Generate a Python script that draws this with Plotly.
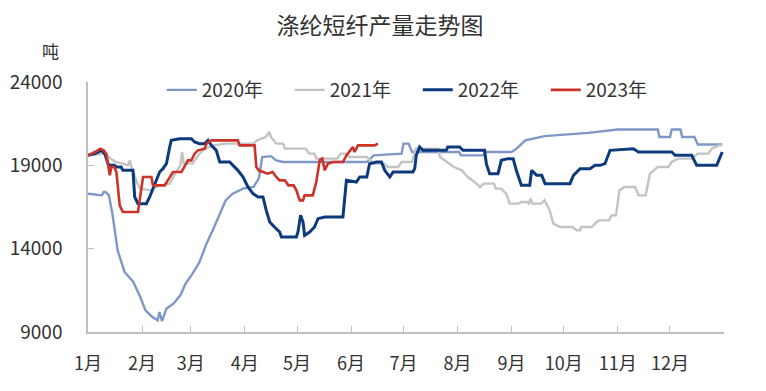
import pandas as pd
import plotly.graph_objects as go

# ---- data (day offset from Jan 1, production in tonnes) ----
days_2020 = [0, 8, 9, 10, 12, 14, 17, 21, 26, 30, 33, 37, 40, 41, 42.5, 45, 49, 53, 56, 60,
             64, 68, 72, 76, 79, 83, 89, 95, 98, 100, 105, 108, 112, 160, 164, 180, 181, 184, 186, 213,
             214, 227, 228, 243, 246, 251, 262, 287, 304, 327, 328, 334, 335, 340, 341, 348, 350, 364]
vals_2020 = [17300, 17200, 17400, 17400, 17200, 16100, 13900, 12600, 12000, 11100, 10300, 9900, 9700, 10200, 9650, 10400, 10700, 11200, 11900, 12500,
             13200, 14300, 15200, 16200, 16900, 17300, 17600, 17700, 18200, 19500, 19550, 19300, 19200, 19200, 19600, 19700, 20300, 20300, 19800, 19800,
             19600, 19600, 19800, 19800, 20000, 20500, 20750, 20950, 21150, 21150, 20700, 20700, 21150, 21150, 20700, 20700, 20250, 20250]

days_2021 = [0, 10, 13, 16, 20, 23, 24, 25, 28, 30, 36, 41, 47, 50, 53, 54, 55, 60, 62, 64,
             67, 72, 79, 95, 97, 102, 104, 105, 108, 112, 113, 125, 127, 130, 131, 143, 145, 148, 150, 160,
             164, 170, 172, 178, 180, 186, 188, 201, 202, 207, 210, 214.5, 218, 223, 225, 227, 233, 234, 237, 240,
             242, 247, 249, 252, 253, 254, 255, 260, 262, 265, 267, 271, 278, 280.5, 282.5, 283, 289, 291, 293, 299,
             300.5, 303, 305, 308, 314, 316, 320, 322.5, 327, 333, 335, 338.5, 346.5, 350, 356, 358, 362, 364]
vals_2021 = [19600, 19700, 19400, 19200, 19100, 19000, 19300, 18900, 18000, 17600, 17500, 17800, 17900, 18500, 19000, 19800, 19100, 19100, 19400, 19700,
             20000, 20200, 20300, 20300, 20500, 20700, 21000, 20700, 20300, 20300, 20000, 20000, 19700, 19700, 19400, 19400, 19700, 19700, 19500, 19500,
             19100, 19100, 18900, 18900, 19200, 19200, 20000, 20000, 19500, 19100, 18900, 18700, 18300, 17900, 17700, 17900, 17900, 17600, 17600, 17300,
             16700, 16700, 16800, 16800, 16700, 17000, 16700, 16700, 16900, 16300, 15500, 15300, 15300, 15100, 15100, 15300, 15300, 15500, 15700, 15700,
             16000, 16000, 17500, 17700, 17700, 17200, 17200, 18500, 18900, 18900, 19200, 19400, 19400, 19700, 19700, 20000, 20200, 20200]

days_2022 = [0, 4, 7.7, 9.6, 11.5, 12.4, 15.3, 16.3, 19, 20, 25.8, 26.8, 28.7, 33.5, 35.4, 38.3, 41.1, 43, 45, 46.9,
             47.8, 52.6, 59.3, 61.2, 64, 67, 68.9, 70.8, 73.6, 75.6, 81.3, 86, 89, 91.8, 94.7, 97.6, 100.4, 102.3, 104.3, 107,
             110, 111, 119.6, 120.5, 122, 123.4, 124.3, 127.2, 130, 132, 135.8, 146.3, 148.3, 154, 156, 160, 161.6, 165.5, 168.4, 170.3,
             173.2, 175.1, 186.5, 187.5, 188.4, 190.3, 192.2, 205.6, 206.5, 213.3, 215.2, 227.6, 228.6, 230.5, 235.3, 237.2, 241, 244, 245.8, 248.7,
             253.5, 254.6, 257.5, 260.4, 262.3, 276.6, 278.6, 282.4, 288.1, 291, 293.9, 296.7, 299.6, 313, 315.9, 335, 336.9, 346.5, 349.3, 360.8, 364]
vals_2022 = [19600, 19700, 19900, 19700, 19100, 19000, 19000, 18900, 18900, 18700, 18700, 17100, 16700, 16700, 17100, 17900, 18600, 18800, 19100, 20100,
             20500, 20600, 20600, 20400, 20300, 20300, 20500, 20200, 19900, 19200, 19200, 18700, 18300, 17700, 17300, 17100, 17100, 16300, 15600, 15300,
             15000, 14700, 14700, 15000, 16000, 15600, 14800, 15000, 15300, 15800, 15900, 15900, 18100, 18000, 18300, 18300, 19100, 19200, 19200, 18700,
             18300, 18600, 18600, 18800, 19600, 20100, 19900, 19900, 20100, 20100, 19900, 19900, 19100, 18500, 18500, 19300, 19400, 19400, 18700, 17800,
             17800, 18700, 18400, 18400, 17900, 17900, 18400, 18800, 18800, 19000, 19000, 19100, 19900, 20000, 19800, 19800, 19600, 19600, 19000, 19000, 19800]

days_2023 = [0, 4, 7, 9, 10.5, 11.5, 12.5, 13.4, 15, 16.3, 17.2, 18.2, 20, 28.7, 30.6, 31.6, 36.4, 37.3, 44, 46.9,
             48.8, 53.6, 55.5, 57.4, 59.3, 61.2, 63.1, 67, 68, 70.8, 86, 87, 95.6, 96.6, 98, 100, 103, 106, 108, 110,
             113, 115, 118, 119.6, 121.5, 123.4, 124.3, 129, 131, 133, 134.5, 135.8, 137.7, 140.6, 146.3, 148.3, 152, 153, 155, 164.5, 166.4]
vals_2023 = [19600, 19800, 20000, 19900, 19700, 19000, 18400, 18900, 18900, 18600, 17600, 16600, 16200, 16200, 17600, 18300, 18300, 17800, 17800, 18300,
             18600, 18600, 19000, 19300, 19300, 19700, 19900, 20000, 20300, 20500, 20500, 20200, 20200, 18900, 18700, 18600, 18500, 18600, 18300, 18100,
             18100, 17800, 17800, 17500, 16900, 16900, 17200, 17200, 18000, 19300, 19400, 18700, 19100, 19200, 19200, 19600, 20100, 19800, 20200, 20200, 20300]

series_names = ["2020年", "2021年", "2022年", "2023年"]
month_labels = ["1月", "2月", "3月", "4月", "5月", "6月", "7月", "8月", "9月", "10月", "11月", "12月"]
y_ticks = [9000, 14000, 19000, 24000]
y_tick_labels = ["9000", "14000", "19000", "24000"]

# ---- styling ----
colors = ["#7f97c6", "#c3c3c3", "#0c3a7c", "#cc3329"]
widths = [2.4, 2.4, 3, 2.6]
FONT = "Noto Sans CJK SC, Microsoft YaHei, sans-serif"
base = pd.Timestamp("2021-01-01")

# page body has an 8px default margin; figure is sized to fit inside it
W, H = 750, 375


def to_dates(days):
    return [base + pd.Timedelta(days=d) for d in days]


fig = go.Figure()
for name, d, v, c, w in zip(series_names,
                            [days_2020, days_2021, days_2022, days_2023],
                            [vals_2020, vals_2021, vals_2022, vals_2023],
                            colors, widths):
    fig.add_trace(go.Scatter(x=to_dates(d), y=v, name=name, mode="lines",
                             line=dict(color=c, width=w)))

month_starts = [pd.Timestamp(2021, m, 1) for m in range(1, 13)]

fig.update_layout(
    width=W, height=H, autosize=False,
    margin=dict(l=80, r=34, t=74, b=51),
    paper_bgcolor="white", plot_bgcolor="white",
    font=dict(family=FONT, color="#333333"),
    title=dict(text="涤纶短纤产量走势图", x=372 / W, xref="container", xanchor="center",
               y=1 - 18 / H, yref="container", yanchor="middle",
               font=dict(size=23, color="#333333", family=FONT)),
    showlegend=True,
    legend=dict(orientation="h", x=0.116, xanchor="left", y=0.968, yanchor="middle",
                font=dict(size=19, color="#333333", family=FONT),
                entrywidth=83, bgcolor="rgba(0,0,0,0)"),
    hovermode=False,
)

fig.update_xaxes(
    type="date", automargin=False,
    range=[base, pd.Timestamp("2022-01-01")],
    tickvals=month_starts, ticktext=month_labels,
    showline=True, linecolor="#bfbfbf", linewidth=1.5,
    ticks="inside", ticklen=6, tickcolor="#bfbfbf", tickwidth=1,
    showgrid=False, zeroline=False,
    tickfont=dict(size=18, color="#333333", family=FONT),
    ticklabelstandoff=15,
)
fig.update_yaxes(
    automargin=False,
    range=[9000, 24000], tickvals=y_ticks, ticktext=y_tick_labels,
    showline=True, linecolor="#bfbfbf", linewidth=1.5,
    ticks="inside", ticklen=6, tickcolor="#bfbfbf",
    showgrid=False, zeroline=False,
    tickfont=dict(size=19, color="#333333", family=FONT),
    ticklabelstandoff=20,
)

fig.add_annotation(text="吨", xref="paper", yref="paper",
                   x=(42 - 80) / 636, y=(324 - 43) / 250,
                   xanchor="center", yanchor="middle", showarrow=False,
                   font=dict(size=17, color="#333333", family=FONT))

fig.write_html("out.html")
